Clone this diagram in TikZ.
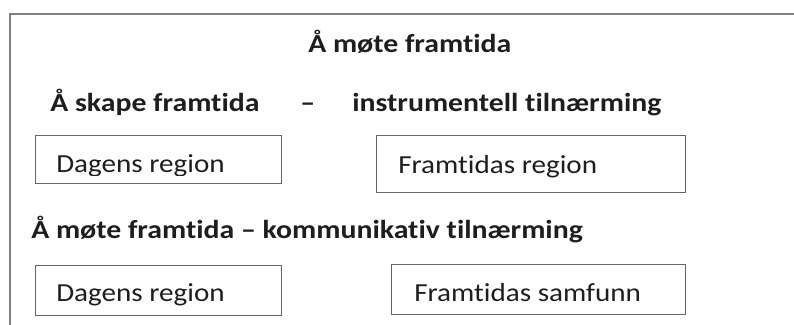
\documentclass[tikz,border=0pt]{standalone}
\usepackage{fontspec}
\setmainfont{Carlito}[FakeStretch=1.12,Ligatures=NoCommon,BoldFeatures={FakeStretch=1.145}]
\definecolor{txt}{HTML}{1E1E1E}
\definecolor{linec}{HTML}{666666}
\definecolor{framec}{HTML}{808080}
\begin{document}
\begin{tikzpicture}[x=0.75pt,y=-0.75pt,
  lbl/.style={anchor=base west,inner sep=0pt,text=txt,font=\fontsize{19.5pt}{23pt}\selectfont},
  head/.style={lbl,font=\fontsize{19.5pt}{23pt}\selectfont\bfseries},
  boxc/.style={draw=linec,line width=1.1pt,anchor=north west,inner sep=0pt}]
\useasboundingbox (0,0) rectangle (794,325);
\clip (0,0) rectangle (794,325);
% outer frame (cut off at right and bottom)
\draw[framec,line width=1.3pt] (10,340) -- (10,14) -- (810,14);
% headings
\node[head] (h1) at (308,52) {Å møte framtida};
\node[head] (h2) at (50,111) {Å skape framtida};
\node[head] (h2d) at (300,111) {–};
\node[head] (h2b) at (352,111) {instrumentell tilnærming};
\node[head] (h3) at (31,238) {Å møte framtida – kommunikativ tilnærming};
% boxes
\node[boxc,minimum width=184.5pt,minimum height=36pt] (b1) at (35,135) {};
\begin{scope}
\clip (35,135) rectangle (281,175);
\node[lbl] (t1) at (56,172) {Dagens region};
\end{scope}
\node[boxc,minimum width=231.75pt,minimum height=42.75pt] (b2) at (376,135) {};
\node[lbl] (t2) at (398,173) {Framtidas region};
\node[boxc,minimum width=184.5pt,minimum height=37.5pt] (b3) at (35,265) {};
\node[lbl] (t3) at (56,301) {Dagens region};
\node[boxc,minimum width=220.5pt,minimum height=37.5pt] (b4) at (391,264) {};
\node[lbl] (t4) at (414,301) {Framtidas samfunn};
\end{tikzpicture}
\end{document}
